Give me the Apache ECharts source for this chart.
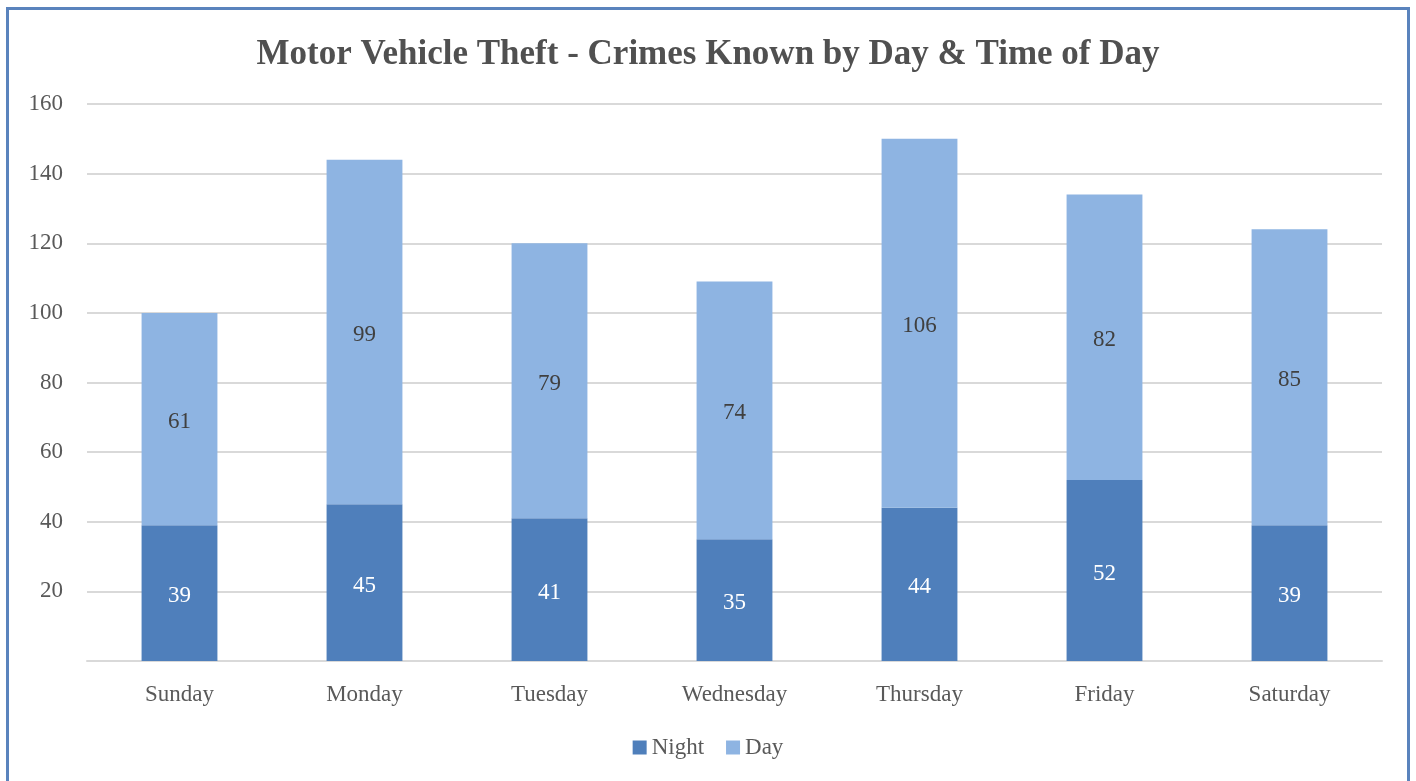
<!DOCTYPE html>
<html>
<head>
<meta charset="utf-8">
<script src="https://cdn.jsdelivr.net/npm/echarts@6/dist/echarts.min.js"></script>
<style>
html,body{margin:0;padding:0;background:#fff;}
#frame{position:absolute;left:6px;top:7px;width:1404px;height:790px;border:3px solid #5a83bd;box-sizing:border-box;}
#chart{position:absolute;left:0;top:0;width:1416px;height:781px;}
</style>
</head>
<body>
<div id="frame"></div>
<div id="chart"></div>
<script>
const categories = ['Sunday','Monday','Tuesday','Wednesday','Thursday','Friday','Saturday'];
const nightValues = [39,45,41,35,44,52,39];
const dayValues = [61,99,79,74,106,82,85];
const seriesNames = ['Night','Day'];
const titleText = 'Motor Vehicle Theft - Crimes Known by Day & Time of Day';

const font = '"Liberation Serif", "Times New Roman", serif';
const chart = echarts.init(document.getElementById('chart'));
chart.setOption({
  animation:false,
  backgroundColor:'transparent',
  title:{text:titleText,left:'center',top:32,textStyle:{fontFamily:font,fontSize:35,fontWeight:'bold',color:'#505050'}},
  legend:{bottom:17,left:'center',itemWidth:14,itemHeight:14,itemGap:22,icon:'rect',
    textStyle:{fontFamily:font,fontSize:23,color:'#595959'},data:seriesNames},
  grid:{left:87,right:34,top:104,bottom:120},
  xAxis:{type:'category',data:categories,
    axisLine:{lineStyle:{color:'#d9d9d9',width:2}},axisTick:{show:false},
    axisLabel:{fontFamily:font,fontSize:23,color:'#595959',margin:22}},
  yAxis:{type:'value',min:0,max:160,interval:20,
    axisLine:{show:false},axisTick:{show:false},
    splitLine:{lineStyle:{color:'#d9d9d9',width:2}},
    axisLabel:{fontFamily:font,fontSize:23,color:'#595959',margin:24,formatter:v=>v===0?'':v}},
  series:[
    {name:seriesNames[0],type:'bar',stack:'s',data:nightValues,barWidth:'41%',
     itemStyle:{color:'#4f7fbb'},
     label:{show:true,position:'inside',offset:[0,3],fontFamily:font,fontSize:23,color:'#ffffff'}},
    {name:seriesNames[1],type:'bar',stack:'s',data:dayValues,barWidth:'41%',
     itemStyle:{color:'#8eb4e2'},
     label:{show:true,position:'inside',offset:[0,3],fontFamily:font,fontSize:23,color:'#404040'}}
  ]
});
</script>
</body>
</html>
